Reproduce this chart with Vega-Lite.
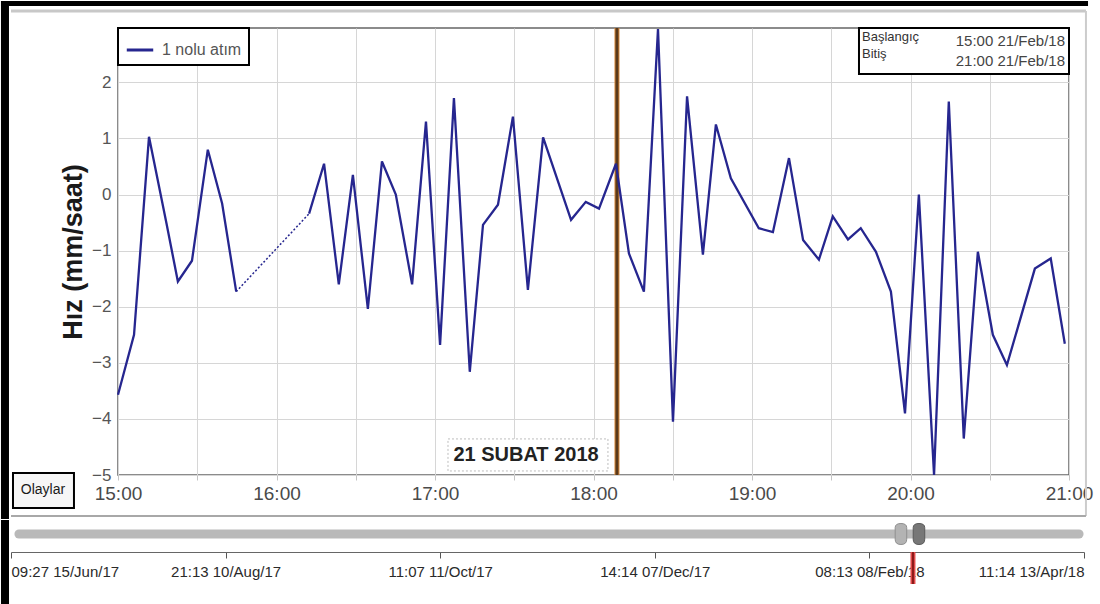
{
  "$schema": "https://vega.github.io/schema/vega-lite/v6.json",
  "padding": 0,
  "background": "white",
  "spacing": 0,
  "bounds": "full",
  "config": {
    "font": "Liberation Sans",
    "view": {"stroke": null},
    "legend": {"strokeWidth": 2}
  },
  "datasets": {
    "olcum": [
      {"zaman": "2018-02-21T15:00:00", "hiz": -3.57, "parca": 1, "seri": "1 nolu atım", "bosluk": false},
      {"zaman": "2018-02-21T15:06:04", "hiz": -2.5, "parca": 1, "seri": "1 nolu atım", "bosluk": false},
      {"zaman": "2018-02-21T15:11:44", "hiz": 1.03, "parca": 1, "seri": "1 nolu atım", "bosluk": false},
      {"zaman": "2018-02-21T15:18:25", "hiz": -0.53, "parca": 1, "seri": "1 nolu atım", "bosluk": false},
      {"zaman": "2018-02-21T15:22:40", "hiz": -1.55, "parca": 1, "seri": "1 nolu atım", "bosluk": false},
      {"zaman": "2018-02-21T15:28:00", "hiz": -1.18, "parca": 1, "seri": "1 nolu atım", "bosluk": false},
      {"zaman": "2018-02-21T15:34:00", "hiz": 0.8, "parca": 1, "seri": "1 nolu atım", "bosluk": false},
      {"zaman": "2018-02-21T15:39:25", "hiz": -0.16, "parca": 1, "seri": "1 nolu atım", "bosluk": false},
      {"zaman": "2018-02-21T15:44:45", "hiz": -1.73, "parca": 1, "seri": "1 nolu atım", "bosluk": true},
      {"zaman": "2018-02-21T16:12:20", "hiz": -0.34, "parca": 2, "seri": "1 nolu atım", "bosluk": true},
      {"zaman": "2018-02-21T16:18:00", "hiz": 0.55, "parca": 2, "seri": "1 nolu atım", "bosluk": false},
      {"zaman": "2018-02-21T16:23:35", "hiz": -1.6, "parca": 2, "seri": "1 nolu atım", "bosluk": false},
      {"zaman": "2018-02-21T16:28:55", "hiz": 0.35, "parca": 2, "seri": "1 nolu atım", "bosluk": false},
      {"zaman": "2018-02-21T16:34:35", "hiz": -2.04, "parca": 2, "seri": "1 nolu atım", "bosluk": false},
      {"zaman": "2018-02-21T16:39:55", "hiz": 0.59, "parca": 2, "seri": "1 nolu atım", "bosluk": false},
      {"zaman": "2018-02-21T16:45:10", "hiz": 0.0, "parca": 2, "seri": "1 nolu atım", "bosluk": false},
      {"zaman": "2018-02-21T16:51:20", "hiz": -1.6, "parca": 2, "seri": "1 nolu atım", "bosluk": false},
      {"zaman": "2018-02-21T16:56:35", "hiz": 1.3, "parca": 2, "seri": "1 nolu atım", "bosluk": false},
      {"zaman": "2018-02-21T17:01:55", "hiz": -2.68, "parca": 2, "seri": "1 nolu atım", "bosluk": false},
      {"zaman": "2018-02-21T17:07:10", "hiz": 1.72, "parca": 2, "seri": "1 nolu atım", "bosluk": false},
      {"zaman": "2018-02-21T17:13:10", "hiz": -3.16, "parca": 2, "seri": "1 nolu atım", "bosluk": false},
      {"zaman": "2018-02-21T17:18:10", "hiz": -0.54, "parca": 2, "seri": "1 nolu atım", "bosluk": false},
      {"zaman": "2018-02-21T17:23:50", "hiz": -0.18, "parca": 2, "seri": "1 nolu atım", "bosluk": false},
      {"zaman": "2018-02-21T17:29:30", "hiz": 1.39, "parca": 2, "seri": "1 nolu atım", "bosluk": false},
      {"zaman": "2018-02-21T17:35:10", "hiz": -1.7, "parca": 2, "seri": "1 nolu atım", "bosluk": false},
      {"zaman": "2018-02-21T17:40:55", "hiz": 1.02, "parca": 2, "seri": "1 nolu atım", "bosluk": false},
      {"zaman": "2018-02-21T17:51:30", "hiz": -0.45, "parca": 2, "seri": "1 nolu atım", "bosluk": false},
      {"zaman": "2018-02-21T17:57:05", "hiz": -0.13, "parca": 2, "seri": "1 nolu atım", "bosluk": false},
      {"zaman": "2018-02-21T18:02:05", "hiz": -0.25, "parca": 2, "seri": "1 nolu atım", "bosluk": false},
      {"zaman": "2018-02-21T18:08:30", "hiz": 0.55, "parca": 2, "seri": "1 nolu atım", "bosluk": false},
      {"zaman": "2018-02-21T18:13:25", "hiz": -1.05, "parca": 2, "seri": "1 nolu atım", "bosluk": false},
      {"zaman": "2018-02-21T18:19:05", "hiz": -1.73, "parca": 2, "seri": "1 nolu atım", "bosluk": false},
      {"zaman": "2018-02-21T18:24:25", "hiz": 2.95, "parca": 2, "seri": "1 nolu atım", "bosluk": false},
      {"zaman": "2018-02-21T18:30:05", "hiz": -4.05, "parca": 2, "seri": "1 nolu atım", "bosluk": false},
      {"zaman": "2018-02-21T18:35:25", "hiz": 1.75, "parca": 2, "seri": "1 nolu atım", "bosluk": false},
      {"zaman": "2018-02-21T18:41:25", "hiz": -1.07, "parca": 2, "seri": "1 nolu atım", "bosluk": false},
      {"zaman": "2018-02-21T18:46:20", "hiz": 1.25, "parca": 2, "seri": "1 nolu atım", "bosluk": false},
      {"zaman": "2018-02-21T18:52:00", "hiz": 0.29, "parca": 2, "seri": "1 nolu atım", "bosluk": false},
      {"zaman": "2018-02-21T19:02:35", "hiz": -0.6, "parca": 2, "seri": "1 nolu atım", "bosluk": false},
      {"zaman": "2018-02-21T19:07:55", "hiz": -0.67, "parca": 2, "seri": "1 nolu atım", "bosluk": false},
      {"zaman": "2018-02-21T19:14:00", "hiz": 0.65, "parca": 2, "seri": "1 nolu atım", "bosluk": false},
      {"zaman": "2018-02-21T19:19:20", "hiz": -0.81, "parca": 2, "seri": "1 nolu atım", "bosluk": false},
      {"zaman": "2018-02-21T19:25:20", "hiz": -1.16, "parca": 2, "seri": "1 nolu atım", "bosluk": false},
      {"zaman": "2018-02-21T19:30:35", "hiz": -0.39, "parca": 2, "seri": "1 nolu atım", "bosluk": false},
      {"zaman": "2018-02-21T19:36:20", "hiz": -0.8, "parca": 2, "seri": "1 nolu atım", "bosluk": false},
      {"zaman": "2018-02-21T19:41:10", "hiz": -0.6, "parca": 2, "seri": "1 nolu atım", "bosluk": false},
      {"zaman": "2018-02-21T19:46:55", "hiz": -1.02, "parca": 2, "seri": "1 nolu atım", "bosluk": false},
      {"zaman": "2018-02-21T19:52:35", "hiz": -1.73, "parca": 2, "seri": "1 nolu atım", "bosluk": false},
      {"zaman": "2018-02-21T19:57:55", "hiz": -3.9, "parca": 2, "seri": "1 nolu atım", "bosluk": false},
      {"zaman": "2018-02-21T20:03:10", "hiz": 0.0, "parca": 2, "seri": "1 nolu atım", "bosluk": false},
      {"zaman": "2018-02-21T20:08:55", "hiz": -5.0, "parca": 2, "seri": "1 nolu atım", "bosluk": false},
      {"zaman": "2018-02-21T20:14:30", "hiz": 1.66, "parca": 2, "seri": "1 nolu atım", "bosluk": false},
      {"zaman": "2018-02-21T20:20:10", "hiz": -4.35, "parca": 2, "seri": "1 nolu atım", "bosluk": false},
      {"zaman": "2018-02-21T20:25:30", "hiz": -1.02, "parca": 2, "seri": "1 nolu atım", "bosluk": false},
      {"zaman": "2018-02-21T20:31:10", "hiz": -2.5, "parca": 2, "seri": "1 nolu atım", "bosluk": false},
      {"zaman": "2018-02-21T20:36:30", "hiz": -3.04, "parca": 2, "seri": "1 nolu atım", "bosluk": false},
      {"zaman": "2018-02-21T20:47:05", "hiz": -1.32, "parca": 2, "seri": "1 nolu atım", "bosluk": false},
      {"zaman": "2018-02-21T20:53:05", "hiz": -1.14, "parca": 2, "seri": "1 nolu atım", "bosluk": false},
      {"zaman": "2018-02-21T20:58:25", "hiz": -2.66, "parca": 2, "seri": "1 nolu atım", "bosluk": false}
    ]
  },
  "vconcat": [
    {
      "width": 951,
      "height": 447,
      "view": {"stroke": "#666", "strokeWidth": 1.5},
      "layer": [
        {
          "data": {"values": [{}]},
          "mark": {"type": "rect", "color": "black"},
          "encoding": {
            "x": {"datum": {"year": 2018, "month": 2, "date": 21, "hours": 14, "minutes": 15, "seconds": 42}, "type": "temporal"},
            "x2": {"datum": {"year": 2018, "month": 2, "date": 21, "hours": 14, "minutes": 18, "seconds": 44}},
            "y": {"datum": 3.451, "type": "quantitative"},
            "y2": {"datum": -5.784}
          }
        },
        {
          "data": {"values": [{}]},
          "mark": {"type": "rect", "color": "black"},
          "encoding": {
            "x": {"datum": {"year": 2018, "month": 2, "date": 21, "hours": 14, "minutes": 15, "seconds": 42}, "type": "temporal"},
            "x2": {"datum": {"year": 2018, "month": 2, "date": 21, "hours": 21, "minutes": 7, "seconds": 12}},
            "y": {"datum": 3.451, "type": "quantitative"},
            "y2": {"datum": 3.362}
          }
        },
        {
          "data": {"values": [{}]},
          "mark": {"type": "rule", "color": "#c8c8c8", "strokeWidth": 3},
          "encoding": {
            "x": {"datum": {"year": 2018, "month": 2, "date": 21, "hours": 14, "minutes": 19, "seconds": 30}, "type": "temporal"},
            "x2": {"datum": {"year": 2018, "month": 2, "date": 21, "hours": 21, "minutes": 6, "seconds": 25}},
            "y": {"datum": 3.273, "type": "quantitative"}
          }
        },
        {
          "data": {"values": [{}]},
          "mark": {"type": "rule", "color": "#cccccc", "strokeWidth": 2},
          "encoding": {
            "x": {"datum": {"year": 2018, "month": 2, "date": 21, "hours": 21, "minutes": 6, "seconds": 25}, "type": "temporal"},
            "y": {"datum": 3.273, "type": "quantitative"},
            "y2": {"datum": -5.73}
          }
        },
        {
          "data": {"values": [{}]},
          "mark": {"type": "rule", "color": "#a8a8a8", "strokeWidth": 2},
          "encoding": {
            "x": {"datum": {"year": 2018, "month": 2, "date": 21, "hours": 14, "minutes": 19, "seconds": 30}, "type": "temporal"},
            "x2": {"datum": {"year": 2018, "month": 2, "date": 21, "hours": 21, "minutes": 6, "seconds": 25}},
            "y": {"datum": -5.73, "type": "quantitative"}
          }
        },
        {
          "data": {"values": [{}]},
          "mark": {"type": "rule", "color": "#d9893a", "strokeWidth": 5},
          "encoding": {
            "x": {"datum": {"year": 2018, "month": 2, "date": 21, "hours": 18, "minutes": 8, "seconds": 53}, "type": "temporal"}
          }
        },
        {
          "data": {"values": [{}]},
          "mark": {"type": "rule", "color": "#5a3a1c", "strokeWidth": 3},
          "encoding": {
            "x": {"datum": {"year": 2018, "month": 2, "date": 21, "hours": 18, "minutes": 8, "seconds": 53}, "type": "temporal"}
          }
        },
        {
          "data": {"values": [{}]},
          "mark": {"type": "rect", "fill": "white", "stroke": "#bdbdbd", "strokeWidth": 1, "strokeDash": [2, 2]},
          "encoding": {
            "x": {"datum": {"year": 2018, "month": 2, "date": 21, "hours": 17, "minutes": 4, "seconds": 55}, "type": "temporal"},
            "x2": {"datum": {"year": 2018, "month": 2, "date": 21, "hours": 18, "minutes": 5, "seconds": 28}},
            "y": {"datum": -4.357, "type": "quantitative"},
            "y2": {"datum": -4.928}
          }
        },
        {
          "data": {"values": [{}]},
          "mark": {"type": "text", "text": "21 SUBAT 2018", "font": "Liberation Sans", "fontSize": 20, "fontWeight": "bold", "color": "#222", "align": "center", "baseline": "middle"},
          "encoding": {
            "x": {"datum": {"year": 2018, "month": 2, "date": 21, "hours": 17, "minutes": 34, "seconds": 27}, "type": "temporal"},
            "y": {"datum": -4.643, "type": "quantitative"}
          }
        },
        {
          "data": {"name": "olcum"},
          "transform": [{"filter": "datum.bosluk"}],
          "mark": {"type": "line", "strokeWidth": 1.5, "strokeDash": [2, 2]},
          "encoding": {
            "x": {"field": "zaman", "type": "temporal"},
            "y": {"field": "hiz", "type": "quantitative"},
            "color": {"field": "seri", "type": "nominal"}
          }
        },
        {
          "data": {"name": "olcum"},
          "mark": {"type": "line", "strokeWidth": 2.3, "strokeJoin": "miter"},
          "encoding": {
            "x": {
              "field": "zaman",
              "type": "temporal",
              "scale": {"domain": [{"year": 2018, "month": 2, "date": 21, "hours": 15}, {"year": 2018, "month": 2, "date": 21, "hours": 21}]},
              "axis": {
                "title": null,
                "values": [
                  {"year": 2018, "month": 2, "date": 21, "hours": 15},
                  {"year": 2018, "month": 2, "date": 21, "hours": 15, "minutes": 30},
                  {"year": 2018, "month": 2, "date": 21, "hours": 16},
                  {"year": 2018, "month": 2, "date": 21, "hours": 16, "minutes": 30},
                  {"year": 2018, "month": 2, "date": 21, "hours": 17},
                  {"year": 2018, "month": 2, "date": 21, "hours": 17, "minutes": 30},
                  {"year": 2018, "month": 2, "date": 21, "hours": 18},
                  {"year": 2018, "month": 2, "date": 21, "hours": 18, "minutes": 30},
                  {"year": 2018, "month": 2, "date": 21, "hours": 19},
                  {"year": 2018, "month": 2, "date": 21, "hours": 19, "minutes": 30},
                  {"year": 2018, "month": 2, "date": 21, "hours": 20},
                  {"year": 2018, "month": 2, "date": 21, "hours": 20, "minutes": 30},
                  {"year": 2018, "month": 2, "date": 21, "hours": 21}
                ],
                "labelExpr": "minutes(datum.value) == 0 ? timeFormat(datum.value, '%H:%M') : ''",
                "labelFontSize": 19,
                "labelColor": "#4a4a4a",
                "labelPadding": 4,
                "labelFlush": false,
                "labelOverlap": false,
                "tickSize": 5,
                "tickColor": "#c4c4c4",
                "domain": false,
                "grid": true,
                "gridColor": "#d6d6d6"
              }
            },
            "y": {
              "field": "hiz",
              "type": "quantitative",
              "scale": {"domain": [-5, 2.97], "nice": false, "zero": false},
              "axis": {
                "title": "Hız (mm/saat)",
                "titleFontSize": 27,
                "titleFontWeight": "bold",
                "titleColor": "#1a1a1a",
                "titlePadding": 4,
                "values": [-5, -4, -3, -2, -1, 0, 1, 2],
                "format": "d",
                "labelFontSize": 17,
                "labelColor": "#555",
                "labelPadding": 7,
                "ticks": false,
                "domain": false,
                "grid": true,
                "gridColor": "#d6d6d6"
              }
            },
            "detail": {"field": "parca"},
            "color": {
              "field": "seri",
              "type": "nominal",
              "scale": {"range": ["#26268f"]},
              "legend": {
                "title": null,
                "orient": "top-left",
                "offset": 0,
                "padding": 7,
                "fillColor": "white",
                "strokeColor": "black",
                "symbolType": "stroke",
                "symbolSize": 700,
                "symbolStrokeWidth": 3,
                "labelFontSize": 16,
                "labelColor": "#555",
                "labelOffset": 7
              }
            }
          }
        },
        {
          "data": {"values": [{}]},
          "mark": {"type": "rect", "fill": "white", "stroke": "black", "strokeWidth": 2},
          "encoding": {
            "x": {"datum": {"year": 2018, "month": 2, "date": 21, "hours": 19, "minutes": 40, "seconds": 30}, "type": "temporal"},
            "x2": {"datum": {"year": 2018, "month": 2, "date": 21, "hours": 21}},
            "y": {"datum": 2.97, "type": "quantitative"},
            "y2": {"datum": 2.15}
          }
        },
        {
          "data": {"values": [{}]},
          "mark": {"type": "text", "text": ["Başlangıç", "Bitiş"], "lineHeight": 17, "fontSize": 13, "color": "#333", "align": "left", "baseline": "top"},
          "encoding": {
            "x": {"datum": {"year": 2018, "month": 2, "date": 21, "hours": 19, "minutes": 41, "seconds": 38}, "type": "temporal"},
            "y": {"datum": 2.917, "type": "quantitative"}
          }
        },
        {
          "data": {"values": [{}]},
          "mark": {"type": "text", "text": ["15:00 21/Feb/18", "21:00 21/Feb/18"], "lineHeight": 20, "fontSize": 15, "color": "#444", "align": "right", "baseline": "top"},
          "encoding": {
            "x": {"datum": {"year": 2018, "month": 2, "date": 21, "hours": 20, "minutes": 58, "seconds": 30}, "type": "temporal"},
            "y": {"datum": 2.863, "type": "quantitative"}
          }
        },
        {
          "data": {"values": [{}]},
          "mark": {"type": "rect", "fill": "#f6f6f6", "stroke": "black", "strokeWidth": 2},
          "encoding": {
            "x": {"datum": {"year": 2018, "month": 2, "date": 21, "hours": 14, "minutes": 20, "seconds": 15}, "type": "temporal"},
            "x2": {"datum": {"year": 2018, "month": 2, "date": 21, "hours": 14, "minutes": 43, "seconds": 20}},
            "y": {"datum": -4.964, "type": "quantitative"},
            "y2": {"datum": -5.588}
          }
        },
        {
          "data": {"values": [{}]},
          "mark": {"type": "text", "text": "Olaylar", "fontSize": 14, "color": "#1a1a1a", "align": "center", "baseline": "middle"},
          "encoding": {
            "x": {"datum": {"year": 2018, "month": 2, "date": 21, "hours": 14, "minutes": 31, "seconds": 36}, "type": "temporal"},
            "y": {"datum": -5.267, "type": "quantitative"}
          }
        }
      ]
    },
    {
      "width": 951,
      "height": 32,
      "view": {"stroke": null},
      "layer": [
        {
          "data": {"values": [{}]},
          "mark": {"type": "rect", "color": "black"},
          "encoding": {
            "x": {
              "datum": -0.0466,
              "type": "quantitative",
              "scale": {"domain": [0, 5], "range": [-107, 966], "nice": false, "zero": false},
              "axis": {
                "title": null,
                "values": [0, 1, 2, 3, 4, 5],
                "labelExpr": "['09:27 15/Jun/17', '21:13 10/Aug/17', '11:07 11/Oct/17', '14:14 07/Dec/17', '08:13 08/Feb/18', '11:14 13/Apr/18'][datum.value]",
                "labelFlush": true,
                "labelOverlap": false,
                "labelFontSize": 15,
                "labelColor": "#2a2a2a",
                "labelPadding": 6,
                "tickSize": 6,
                "tickColor": "#555",
                "domainColor": "#666",
                "grid": false
              }
            },
            "x2": {"datum": -0.0093},
            "y": {"datum": 1, "type": "quantitative", "scale": {"domain": [0, 1], "nice": false, "zero": false}, "axis": null},
            "y2": {"datum": -1.6875}
          }
        },
        {
          "data": {"values": [{}]},
          "mark": {"type": "rule", "color": "#b9b9b9", "strokeWidth": 9, "strokeCap": "round"},
          "encoding": {
            "x": {"datum": 0.037, "type": "quantitative"},
            "x2": {"datum": 4.977},
            "y": {"datum": 0.5625, "type": "quantitative"}
          }
        },
        {
          "data": {"values": [{}]},
          "mark": {"type": "point", "shape": "M -0.55 -0.6 Q -0.55 -1 0 -1 Q 0.55 -1 0.55 -0.6 L 0.55 0.5 Q 0.55 1 0 1 Q -0.55 1 -0.55 0.5 Z", "size": 441, "filled": true, "fill": "#b3b3b3", "stroke": "#8f8f8f", "strokeWidth": 1, "opacity": 1},
          "encoding": {
            "x": {"datum": 4.147, "type": "quantitative"},
            "y": {"datum": 0.5625, "type": "quantitative"}
          }
        },
        {
          "data": {"values": [{}]},
          "mark": {"type": "point", "shape": "M -0.55 -0.6 Q -0.55 -1 0 -1 Q 0.55 -1 0.55 -0.6 L 0.55 0.5 Q 0.55 1 0 1 Q -0.55 1 -0.55 0.5 Z", "size": 441, "filled": true, "fill": "#777777", "stroke": "#5a5a5a", "strokeWidth": 1, "opacity": 1},
          "encoding": {
            "x": {"datum": 4.231, "type": "quantitative"},
            "y": {"datum": 0.5625, "type": "quantitative"}
          }
        },
        {
          "data": {"values": [{}]},
          "mark": {"type": "rule", "color": "#e04a4a", "strokeWidth": 5},
          "encoding": {
            "x": {"datum": 4.203, "type": "quantitative"},
            "y": {"datum": 0, "type": "quantitative"},
            "y2": {"datum": -1.0}
          }
        },
        {
          "data": {"values": [{}]},
          "mark": {"type": "rule", "color": "#8b1a1a", "strokeWidth": 2},
          "encoding": {
            "x": {"datum": 4.203, "type": "quantitative"},
            "y": {"datum": 0, "type": "quantitative"},
            "y2": {"datum": -1.0}
          }
        }
      ]
    }
  ]
}
